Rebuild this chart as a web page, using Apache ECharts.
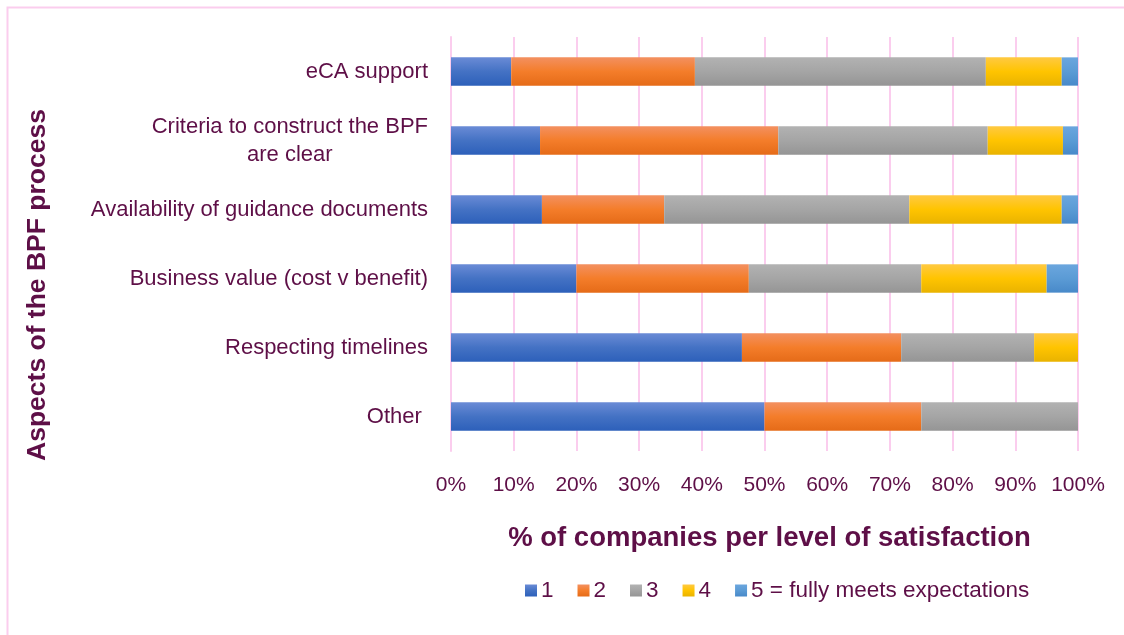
<!DOCTYPE html>
<html>
<head>
<meta charset="utf-8">
<script src="https://cdn.jsdelivr.net/npm/echarts@6/dist/echarts.min.js"></script>
<style>
  html, body { margin: 0; padding: 0; background: #fff; }
  #chart { width: 1124px; height: 635px; }
</style>
</head>
<body>
<div id="chart"></div>
<script>
// categories, top to bottom as in the picture
const categories = [
  'eCA support',
  'Criteria to construct the BPF\nare clear',
  'Availability of guidance documents',
  'Business value (cost v benefit)',
  'Respecting timelines',
  'Other '
]
const seriesNames = ['1', '2', '3', '4', '5 = fully meets expectations']
const level1 = [9.6, 14.2, 14.5, 20, 46.4, 50]
const level2 = [29.3, 38, 19.5, 27.5, 25.4, 25]
const level3 = [46.4, 33.4, 39.1, 27.5, 21.2, 25]
const level4 = [12.1, 12, 24.3, 20, 7, 0]
const level5 = [2.6, 2.4, 2.6, 5, 0, 0]
const tickLabels = ['0%', '10%', '20%', '30%', '40%', '50%', '60%', '70%', '80%', '90%', '100%']

const textColor = '#5e0f47'
const pink = '#fbcdee'
const font = 'Liberation Sans'

// top / middle / bottom shades of each bar colour
const shades = [
  ['#6a8bd6', '#4472c4', '#2d60ba'],
  ['#f39060', '#f47d2a', '#e56b18'],
  ['#b2b2b2', '#a5a5a5', '#959595'],
  ['#ffc942', '#ffc400', '#e9b300'],
  ['#6ba6de', '#5b9bd5', '#4889c9']
]
const grad = (c) => new echarts.graphic.LinearGradient(0, 0, 0, 1, [
  { offset: 0, color: c[0] },
  { offset: 0.5, color: c[1] },
  { offset: 1, color: c[2] }
])

const values = [level1, level2, level3, level4, level5]
const series = values.map((v, i) => ({
  name: seriesNames[i],
  type: 'bar',
  stack: 'total',
  barCategoryGap: '59%',
  data: v,
  itemStyle: { color: grad(shades[i]) }
}))

const chart = echarts.init(document.getElementById('chart'), null, { renderer: 'canvas' })
chart.setOption({
  animation: false,
  textStyle: { fontFamily: font },
  grid: { left: 451, right: 46, top: 37, bottom: 184 },
  legend: {
    bottom: 28,
    left: 520,
    itemWidth: 12,
    itemHeight: 12,
    itemGap: 24,
    icon: 'rect',
    textStyle: { color: textColor, fontSize: 22.5, fontFamily: font, padding: [0, 0, 0, -1] },
    data: seriesNames
  },
  xAxis: {
    type: 'value',
    min: 0,
    max: 100,
    interval: 10,
    name: '% of companies per level of satisfaction',
    nameLocation: 'middle',
    nameGap: 73,
    nameTextStyle: { color: textColor, fontSize: 27.5, fontWeight: 'bold', fontFamily: font, padding: [0, 0, 0, 10] },
    axisLine: { show: false },
    axisTick: { show: false },
    axisLabel: {
      color: textColor,
      fontSize: 21,
      margin: 24,
      formatter: (val) => tickLabels[Math.round(val / 10)]
    },
    splitLine: { lineStyle: { color: pink, width: 2 } }
  },
  yAxis: {
    type: 'category',
    inverse: true,
    data: categories,
    axisLine: { show: true, lineStyle: { color: pink, width: 2 } },
    axisTick: { show: false },
    axisLabel: {
      color: textColor,
      fontSize: 22,
      margin: 23,
      lineHeight: 28,
      formatter: (val) => val.split('\n').map(s => '{c|' + s + '}').join('\n'),
      rich: { c: { color: textColor, fontSize: 22, fontFamily: font, align: 'center', lineHeight: 28 } }
    }
  },
  graphic: [
    {
      type: 'rect',
      shape: { x: 7.5, y: 7.5, width: 1200, height: 700 },
      style: { fill: 'none', stroke: pink, lineWidth: 2 },
      silent: true
    },
    {
      type: 'text',
      x: 38,
      y: 285,
      rotation: Math.PI / 2,
      style: {
        text: 'Aspects of the BPF process',
        fill: textColor,
        fontSize: 26.5,
        fontWeight: 'bold',
        fontFamily: font,
        align: 'center',
        verticalAlign: 'middle'
      }
    }
  ],
  series: series
})
</script>
</body>
</html>
